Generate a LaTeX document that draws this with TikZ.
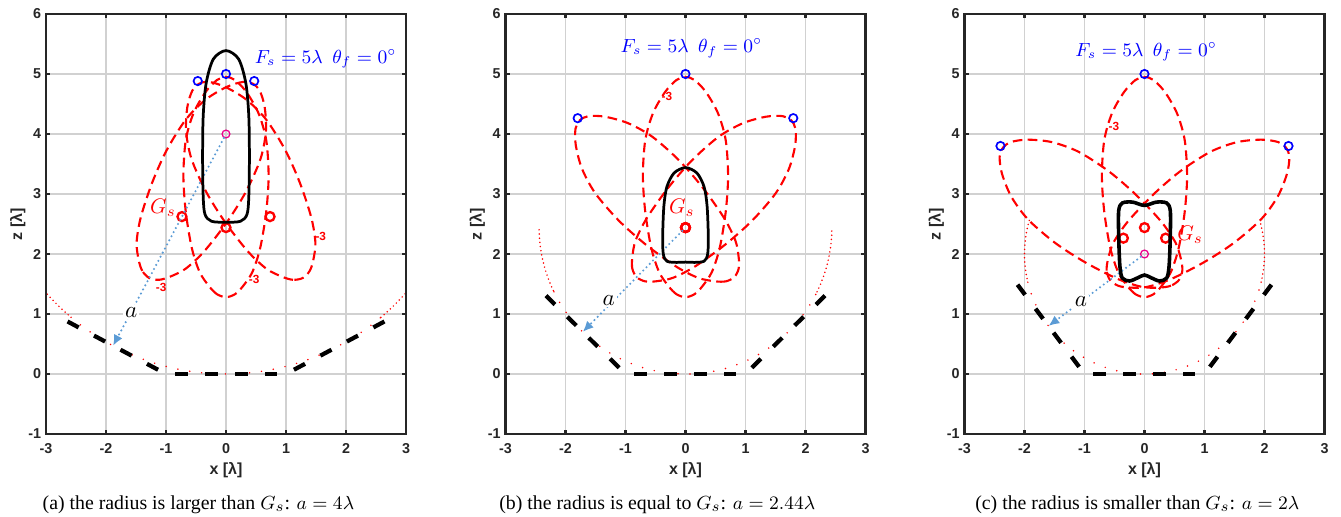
\documentclass[tikz,border=0pt]{standalone}
\usepackage{fontspec}
\setmainfont{Liberation Serif}
\setsansfont{Liberation Sans}
\usepackage{amsmath}
\usetikzlibrary{arrows.meta}
\definecolor{axgray}{gray}{0.15}
\definecolor{radblue}{RGB}{91,155,213}
\begin{document}
\begin{tikzpicture}[
  gridline/.style={draw=black!18,line width=0.5pt},
  axbox/.style={draw=axgray,line width=1pt},
  ticklab/.style={font=\fontsize{6.8}{7}\sffamily\bfseries,text=axgray,inner sep=1pt},
  axlab/.style={font=\fontsize{7.6}{8}\sffamily\bfseries,text=axgray,inner sep=0pt},
  lobe/.style={red,line width=1pt,dash pattern=on 0.16cm off 0.09cm},
  elem/.style={black,line width=2pt,dash pattern=on 0.21cm off 0.29cm},
  arcdense/.style={red,line width=0.8pt,line cap=round,dash pattern=on 0pt off 0.07cm},
  arcsparse/.style={red,line width=0.8pt,line cap=round,dash pattern=on 0pt off 0.2cm},
  focal/.style={circle,draw=blue,line width=0.8pt,inner sep=0pt,minimum size=0.14cm},
  gsmark/.style={circle,draw=red,line width=1.1pt,inner sep=0pt,minimum size=0.15cm},
  ctrmark/.style={circle,draw=magenta,line width=0.6pt,inner sep=0pt,minimum size=0.13cm},
  region/.style={black,line width=1.3pt},
  radarrow/.style={radblue,line width=1.1pt,line cap=round,dash pattern=on 0pt off 2.2pt,
                   -{Latex[length=1.8mm,width=1.6mm]}},
  fstext/.style={text=blue,font=\fontsize{9}{10}\selectfont,inner sep=0pt},
  gstext/.style={text=red,font=\fontsize{10}{11}\selectfont,inner sep=0pt},
  alab/.style={fill=white,font=\fontsize{11}{12}\selectfont,inner sep=1pt},
  lvl/.style={text=red,font=\fontsize{5.6}{6}\sffamily\bfseries,inner sep=0pt},
  captext/.style={font=\fontsize{9.4}{11}\selectfont,inner sep=0pt}]
  \useasboundingbox (-3.7667,-2.3833) rectangle (18.5833,6.2333);

  % one panel per array radius: shift / radius a / panel tilt / side lobe width
  \foreach \sx/\rr/\th/\ws in {0/4/28.07/1.05,7.658/2.44/44.57/1,15.308/2/53.13/1.05}{
  \begin{scope}[xshift=\sx cm]
    \pgfmathsetmacro{\aout}{270-2*\th}
    \pgfmathsetmacro{\ain}{270-\th-atan(0.86/\rr)}
    \pgfmathsetmacro{\bin}{270+\th+atan(0.86/\rr)}
    \pgfmathsetmacro{\bout}{270+2*\th}
    \coordinate (org) at (0,0);
    \coordinate (ctr) at (0,\rr);
    \path (ctr) ++(270-\th:\rr) coordinate (pl);
    \path (ctr) ++(270+\th:\rr) coordinate (pr);
    \begin{scope}
      \clip (-3,-1) rectangle (3,6);
      \draw[gridline] (-3,-1) grid (3,6);
      \draw[arcdense] (ctr) ++(\aout:\rr) arc[start angle=\aout,end angle=\ain,radius=\rr];
      \draw[arcsparse] (ctr) ++(\ain:\rr) arc[start angle=\ain,end angle=\bin,radius=\rr];
      \draw[arcdense] (ctr) ++(\bin:\rr) arc[start angle=\bin,end angle=\bout,radius=\rr];
      % -3 dB contours of the three beams
      \foreach \bp/\ang/\w in {org/90/1,pl/90-\th/\ws,pr/90+\th/\ws}{
        \begin{scope}[shift={(\bp)},rotate=\ang,yscale=\w]
          \draw[lobe] plot[smooth cycle] coordinates {(1.28,0) (1.33,0.15) (1.46,0.28)
            (1.7,0.44) (2.1,0.57) (2.7,0.67) (3.3,0.71) (3.9,0.67) (4.35,0.54) (4.7,0.34)
            (4.9,0.15) (4.95,0) (4.9,-0.15) (4.7,-0.34) (4.35,-0.54) (3.9,-0.67)
            (3.3,-0.71) (2.7,-0.67) (2.1,-0.57) (1.7,-0.44) (1.46,-0.28) (1.33,-0.15)};
        \end{scope}
      }
    \end{scope}
    % array panels
    \draw[elem] (-0.85,0) -- (0.85,0);
    \draw[elem] (pl) ++(180-\th:0.86) -- ++(-\th:1.72);
    \draw[elem] (pr) ++(\th:0.86) -- ++(180+\th:1.72);
    % markers
    \node[ctrmark] (cm) at (ctr) {};
    \foreach \bp/\ang in {org/90,pl/90-\th,pr/90+\th}{
      \path (\bp) ++(\ang:5) node[focal] (fp\bp) {};
      \path (\bp) ++(\ang:2.44) node[gsmark] (gs\bp) {};
    }
    \draw[radarrow] (cm) -- (pl);
    % axes
    \draw[axbox] (-3,-1) rectangle (3,6);
    \foreach \x in {-3,...,3}{
      \draw[axbox] (\x,-1) -- ++(0,0.07) (\x,6) -- ++(0,-0.07);
      \node[ticklab,anchor=base] (xt\x) at (\x,-1.33) {\x};
    }
    \foreach \y in {-1,...,6}{
      \draw[axbox] (-3,\y) -- ++(0.07,0) (3,\y) -- ++(-0.07,0);
      \node[ticklab,anchor=east] (yt\y) at (-3.04,\y) {\y};
    }
    \node[axlab] (xl) at (0,-1.6) {x [λ]};
    \node[axlab,rotate=90] (zl) at (-3.47,2.5) {z [λ]};
  \end{scope}
  }

  % (a) a = 4
  \begin{scope}
    \draw[region] plot[smooth cycle] coordinates {(0,2.53) (0.24,2.545) (0.35,2.66)
      (0.38,2.95) (0.39,3.6) (0.38,4.3) (0.33,4.85) (0.21,5.25) (0,5.39) (-0.21,5.25)
      (-0.33,4.85) (-0.38,4.3) (-0.39,3.6) (-0.38,2.95) (-0.35,2.66) (-0.24,2.545)};
    \node[fstext] (fsa) at (1.66,5.25) {$F_s = 5\lambda\ \ \theta_f = 0^\circ$};
    \node[gstext] (gsa) at (-1.05,2.77) {$G_s$};
    \node[alab] (aa) at (-1.58,1.03) {$a$};
    \node[lvl] (la1) at (-1.08,1.44) {-3};
    \node[lvl] (la2) at (0.47,1.58) {-3};
    \node[lvl] (la3) at (1.58,2.3) {-3};
    \node[captext] (capa) at (-0.46,-2.18) {(a) the radius is larger than $G_s$: $a = 4\lambda$};
  \end{scope}

  % (b) a = 2.44
  \begin{scope}[xshift=7.658cm]
    \draw[region] plot[smooth cycle] coordinates {(0,3.44) (0.19,3.35) (0.31,3.12)
      (0.36,2.8) (0.38,2.3) (0.37,2.0) (0.31,1.88) (0.15,1.86) (0,1.865) (-0.15,1.86)
      (-0.31,1.88) (-0.37,2.0) (-0.38,2.3) (-0.36,2.8) (-0.31,3.12) (-0.19,3.35)};
    \node[fstext] (fsb) at (0.1,5.43) {$F_s = 5\lambda\ \ \theta_f = 0^\circ$};
    \node[gstext] (gsb) at (-0.06,2.77) {$G_s$};
    \node[alab] (ab) at (-1.28,1.23) {$a$};
    \node[lvl] (lb1) at (-0.31,4.62) {-3};
    \node[captext] (capb) at (-0.47,-2.18) {(b) the radius is equal to $G_s$: $a = 2.44\lambda$};
  \end{scope}

  % (c) a = 2
  \begin{scope}[xshift=15.308cm]
    \draw[region,line width=1.7pt] plot[smooth cycle] coordinates {(0,2.81) (0.2,2.865)
      (0.37,2.85) (0.43,2.72) (0.43,2.3) (0.41,1.8) (0.37,1.6) (0.25,1.55) (0.12,1.6)
      (0,1.65) (-0.12,1.6) (-0.25,1.55) (-0.37,1.6) (-0.41,1.8) (-0.43,2.3) (-0.43,2.72)
      (-0.37,2.85) (-0.2,2.865)};
    \node[fstext] (fsc) at (0.03,5.37) {$F_s = 5\lambda\ \ \theta_f = 0^\circ$};
    \node[gstext] (gsc) at (0.76,2.32) {$G_s$};
    \node[alab] (ac) at (-1.06,1.2) {$a$};
    \node[lvl] (lc1) at (-0.51,4.12) {-3};
    \node[captext] (capc) at (-0.12,-2.18) {(c) the radius is smaller than $G_s$: $a = 2\lambda$};
  \end{scope}
\end{tikzpicture}
\end{document}
